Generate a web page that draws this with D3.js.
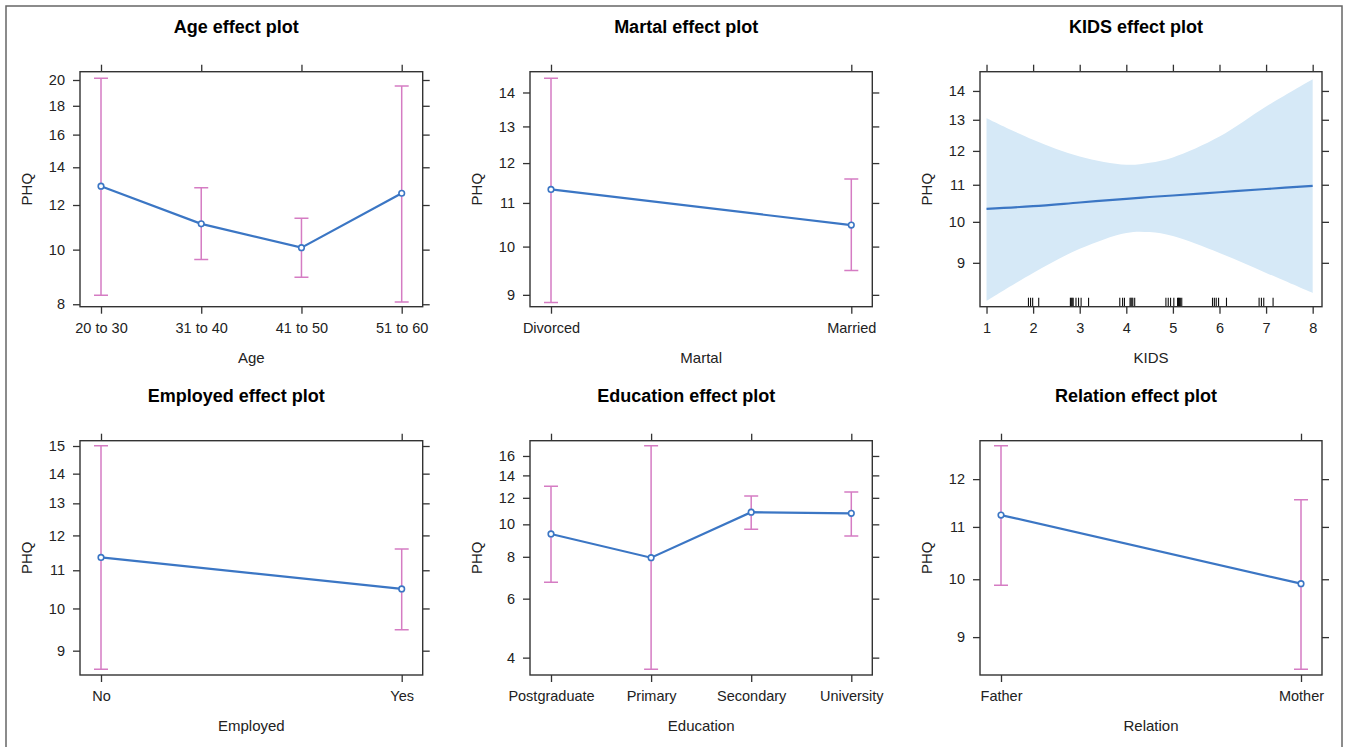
<!DOCTYPE html>
<html>
<head>
<meta charset="utf-8">
<script src="https://cdn.jsdelivr.net/npm/d3@7"></script>
<style>
  body { margin: 0; background: #fff; }
  svg { display: block; font-family: "Liberation Sans", Arial, sans-serif; }
  .tick text { font-size: 14.5px; fill: #222; }
  .tick line { stroke: #333; stroke-width: 1.3; }
</style>
</head>
<body>
<svg id="chart"></svg>
<script>
// ---- data ----
const ageLevels = ["20 to 30", "31 to 40", "41 to 50", "51 to 60"];
const ageFit = [12.96, 11.11, 10.08, 12.59];
const ageLower = [8.30, 9.60, 8.93, 8.07];
const ageUpper = [20.14, 12.88, 11.37, 19.51];
const ageTicks = [8, 10, 12, 14, 16, 18, 20];
const ageRange = [7.92, 20.69];

const martalLevels = ["Divorced", "Married"];
const martalFit = [11.33, 10.48];
const martalLower = [8.85, 9.49];
const martalUpper = [14.44, 11.59];
const martalTicks = [9, 10, 11, 12, 13, 14];
const martalRange = [8.77, 14.65];

const kidsX = [1, 2, 3, 4, 4.5, 5, 6, 7, 8];
const kidsFit = [10.34, 10.41, 10.51, 10.61, 10.66, 10.70, 10.79, 10.88, 10.97];
const kidsLower = [8.16, 8.77, 9.33, 9.72, 9.74, 9.64, 9.23, 8.77, 8.33];
const kidsUpper = [13.05, 12.35, 11.83, 11.58, 11.64, 11.80, 12.45, 13.45, 14.43];
const kidsRug = [1.90, 1.945, 1.99, 2.12,
  2.80, 2.82, 2.84, 2.86, 2.92, 2.975, 3.03, 3.19,
  3.86, 3.92, 3.96, 4.08, 4.10, 4.12, 4.14, 4.18,
  4.85, 4.90, 4.95, 5.02, 5.10, 5.12, 5.14, 5.16, 5.19,
  5.85, 5.89, 5.93, 5.98, 6.15,
  6.85, 6.90, 6.95, 7.15];
const kidsXTicks = [1, 2, 3, 4, 5, 6, 7, 8];
const kidsTicks = [9, 10, 11, 12, 13, 14];
const kidsRange = [8.04, 14.71];
const kidsXRange = [0.86, 8.2];

const employedLevels = ["No", "Yes"];
const employedFit = [11.36, 10.50];
const employedLower = [8.59, 9.48];
const employedUpper = [15.01, 11.60];
const employedTicks = [9, 10, 11, 12, 13, 14, 15];
const employedRange = [8.47, 15.2];

const educationLevels = ["Postgraduate", "Primary", "Secondary", "University"];
const educationFit = [9.36, 7.95, 10.87, 10.79];
const educationLower = [6.72, 3.69, 9.67, 9.23];
const educationUpper = [12.99, 17.17, 12.15, 12.49];
const educationTicks = [4, 6, 8, 10, 12, 14, 16];
const educationRange = [3.55, 17.77];

const relationLevels = ["Father", "Mother"];
const relationFit = [11.24, 9.92];
const relationLower = [9.89, 8.49];
const relationUpper = [12.75, 11.56];
const relationTicks = [9, 10, 11, 12];
const relationRange = [8.40, 12.87];

// ---- drawing ----
const lineColor = "#3b76c4";
const ciColor = "#d57cc3";
const bandColor = "#d6e9f7";

const svg = d3.select("#chart").attr("width", 1346).attr("height", 747);

svg.append("rect")
  .attr("x", 6).attr("y", 6)
  .attr("width", 1336).attr("height", 800)
  .attr("fill", "none")
  .attr("stroke", "#666")
  .attr("stroke-width", 1.5);

const cols = [[80, 422.7], [530, 872.3], [980, 1322]];
const rows = [[71.7, 306.7], [440.7, 675]];

function createPanel(col, row, title, xlabel) {
  const [x0, x1] = cols[col];
  const [y0, y1] = rows[row];
  const g = svg.append("g");

  g.append("text")
    .attr("x", (x0 + x1) / 2 - 15)
    .attr("y", y0 - 38.5)
    .attr("text-anchor", "middle")
    .style("font-size", "18px")
    .style("font-weight", "bold")
    .attr("fill", "#000")
    .text(title);

  g.append("text")
    .attr("x", (x0 + x1) / 2)
    .attr("y", y1 + 56)
    .attr("text-anchor", "middle")
    .style("font-size", "15px")
    .attr("fill", "#222")
    .text(xlabel);

  g.append("text")
    .attr("transform", `translate(${x0 - 48},${(y0 + y1) / 2}) rotate(-90)`)
    .attr("text-anchor", "middle")
    .style("font-size", "15px")
    .attr("fill", "#222")
    .text("PHQ");

  return { g, x0, x1, y0, y1 };
}

function drawAxes(p, xscale, yscale, xticks, yticks) {
  const { g, x0, x1, y0, y1 } = p;

  const left = g.append("g").attr("transform", `translate(${x0},0)`)
    .call(d3.axisLeft(yscale).tickValues(yticks).tickFormat(d3.format("d")).tickSize(7).tickPadding(8));
  const right = g.append("g").attr("transform", `translate(${x1},0)`)
    .call(d3.axisRight(yscale).tickValues(yticks).tickFormat("").tickSize(7));
  const bottom = g.append("g").attr("transform", `translate(0,${y1})`)
    .call(d3.axisBottom(xscale).tickValues(xticks).tickSize(7).tickPadding(9));
  const top = g.append("g").attr("transform", `translate(0,${y0})`)
    .call(d3.axisTop(xscale).tickValues(xticks).tickFormat("").tickSize(7));

  [left, right, bottom, top].forEach((a) => a.select(".domain").remove());

  g.append("rect")
    .attr("x", x0).attr("y", y0)
    .attr("width", x1 - x0).attr("height", y1 - y0)
    .attr("fill", "none")
    .attr("stroke", "#333")
    .attr("stroke-width", 1.4);
}

function factorPanel(col, row, title, xlabel, levels, fit, lower, upper, ticks, range) {
  const p = createPanel(col, row, title, xlabel);
  const xscale = d3.scalePoint().domain(levels).range([p.x0 + 21, p.x1 - 21]);
  const yscale = d3.scaleLog().domain(range).range([p.y1, p.y0]);

  const rowsData = levels.map((lev, i) => ({ lev, fit: fit[i], lo: lower[i], hi: upper[i] }));

  const ci = p.g.append("g")
    .attr("stroke", ciColor)
    .attr("stroke-width", 1.5)
    .attr("fill", "none");
  ci.selectAll("path")
    .data(rowsData)
    .join("path")
    .attr("d", (d) => {
      const x = xscale(d.lev);
      const lo = yscale(d.lo);
      const hi = yscale(d.hi);
      return `M${x},${lo}V${hi}M${x - 7},${hi}H${x + 7}M${x - 7},${lo}H${x + 7}`;
    });

  const line = d3.line().x((d) => xscale(d.lev)).y((d) => yscale(d.fit));
  p.g.append("path")
    .datum(rowsData)
    .attr("d", line)
    .attr("fill", "none")
    .attr("stroke", lineColor)
    .attr("stroke-width", 2.2);

  p.g.selectAll("circle.pt")
    .data(rowsData)
    .join("circle")
    .attr("class", "pt")
    .attr("cx", (d) => xscale(d.lev))
    .attr("cy", (d) => yscale(d.fit))
    .attr("r", 2.8)
    .attr("fill", "#fff")
    .attr("stroke", lineColor)
    .attr("stroke-width", 1.6);

  drawAxes(p, xscale, yscale, levels, ticks);
}

function numericPanel(col, row, title, xlabel) {
  const p = createPanel(col, row, title, xlabel);
  const xscale = d3.scaleLinear().domain(kidsXRange).range([p.x0, p.x1]);
  const yscale = d3.scaleLog().domain(kidsRange).range([p.y1, p.y0]);

  const pts = kidsX.map((x, i) => ({ x, fit: kidsFit[i], lo: kidsLower[i], hi: kidsUpper[i] }));

  const band = d3.area()
    .x((d) => xscale(d.x))
    .y0((d) => yscale(d.lo))
    .y1((d) => yscale(d.hi))
    .curve(d3.curveCatmullRom);
  p.g.append("path").datum(pts).attr("d", band).attr("fill", bandColor);

  const line = d3.line().x((d) => xscale(d.x)).y((d) => yscale(d.fit)).curve(d3.curveCatmullRom);
  p.g.append("path")
    .datum(pts)
    .attr("d", line)
    .attr("fill", "none")
    .attr("stroke", lineColor)
    .attr("stroke-width", 2.2);

  p.g.append("g")
    .attr("stroke", "#111")
    .attr("stroke-width", 1.1)
    .selectAll("line")
    .data(kidsRug)
    .join("line")
    .attr("x1", (d) => xscale(d))
    .attr("x2", (d) => xscale(d))
    .attr("y1", p.y1)
    .attr("y2", p.y1 - 9);

  drawAxes(p, xscale, yscale, kidsXTicks, kidsTicks);
}

factorPanel(0, 0, "Age effect plot", "Age", ageLevels, ageFit, ageLower, ageUpper, ageTicks, ageRange);
factorPanel(1, 0, "Martal effect plot", "Martal", martalLevels, martalFit, martalLower, martalUpper, martalTicks, martalRange);
numericPanel(2, 0, "KIDS effect plot", "KIDS");
factorPanel(0, 1, "Employed effect plot", "Employed", employedLevels, employedFit, employedLower, employedUpper, employedTicks, employedRange);
factorPanel(1, 1, "Education effect plot", "Education", educationLevels, educationFit, educationLower, educationUpper, educationTicks, educationRange);
factorPanel(2, 1, "Relation effect plot", "Relation", relationLevels, relationFit, relationLower, relationUpper, relationTicks, relationRange);
</script>
</body>
</html>
